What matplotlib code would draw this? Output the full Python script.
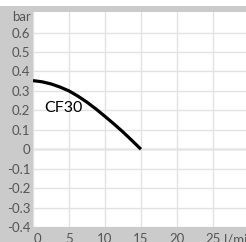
import matplotlib
matplotlib.use("Agg")
import matplotlib.pyplot as plt
from matplotlib.patches import Rectangle
from matplotlib.transforms import ScaledTranslation

flow = [0, 1.25, 2.5, 3.75, 5, 6.25, 7.5, 8.75, 10, 11.25, 12.5, 13.75, 15]
pressure = [0.353, 0.347, 0.336, 0.320, 0.300, 0.273, 0.242, 0.207, 0.169, 0.130, 0.089, 0.045, 0.0]
xticks = [0, 5, 10, 15, 20, 25]
yticks = [-0.4, -0.3, -0.2, -0.1, 0, 0.1, 0.2, 0.3, 0.4, 0.5, 0.6]
ylabels = ["-0.4", "-0.3", "-0.2", "-0.1", "0", "0.1", "0.2", "0.3", "0.4", "0.5", "0.6"]
series_label = "CF30"

plt.rcParams['font.family'] = ['Lato', 'DejaVu Sans']
fig = plt.figure(figsize=(2.46, 2.42), dpi=100)
fig.patch.set_facecolor("white")
bg = Rectangle((0, 0), 1, 236/242, transform=fig.transFigure,
               facecolor="#cbcbcb", edgecolor="none", zorder=-10)
fig.add_artist(bg)
ax = fig.add_axes([33/246, 15/242, 213/246, 215/242])
ax.set_zorder(1)
ax.set_facecolor("white")
ax.set_xlim(0, 29.6)
ax.set_ylim(-0.4, 0.706)
ax.set_xticks(xticks)
ax.set_yticks(yticks)
ax.set_yticklabels(ylabels)
ax.grid(True, color="#e2e2e2", linewidth=1.0)
ax.axhline(0, color="#b8b8b8", linewidth=1.0, zorder=1)
for s in ax.spines.values():
    s.set_visible(False)
ax.tick_params(length=0, labelsize=9.5, colors="#555555", pad=2)
ax.tick_params(axis='x', pad=4)
first = ax.get_xticklabels()[0]
first.set_transform(first.get_transform() + ScaledTranslation(4/100, 0, fig.dpi_scale_trans))
ax.plot(flow, pressure, color="black", linewidth=2.3, zorder=3, solid_capstyle="butt")
ax.text(1.5, 0.21, series_label, fontsize=11.5, color="black", va="center", ha="left")
fig.text(31/246, 1 - 17/242, "bar", fontsize=9.5, color="#555555", ha="right", va="center", zorder=5)
fig.text(224/246, 1 - 240/242, "l/min", fontsize=9.5, color="#555555", ha="left", va="center", zorder=5)
fig.savefig("out.png", dpi=100)
